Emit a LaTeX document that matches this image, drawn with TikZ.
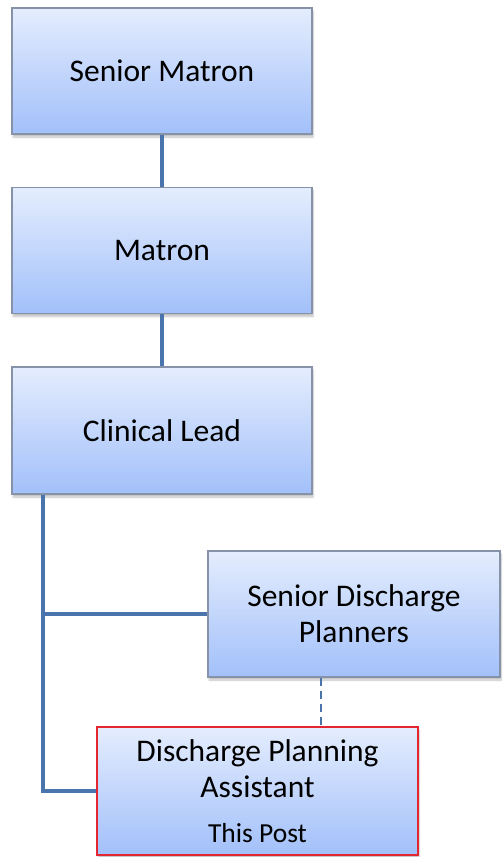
\documentclass[tikz,border=0pt]{standalone}
\usepackage{fontspec}
\setmainfont{Carlito}
\usetikzlibrary{shadows.blur}
\definecolor{boxtop}{HTML}{E4EDFD}
\definecolor{boxbot}{HTML}{A2C0FA}
\definecolor{boxline}{HTML}{8592A8}
\definecolor{linkblue}{HTML}{4A75AC}
\definecolor{postred}{HTML}{E32630}
\tikzset{
  box/.style={draw=boxline,line width=1.3pt,top color=boxtop,bottom color=boxbot,
    minimum width=300pt,minimum height=126pt,align=center,inner sep=0pt,
    font=\fontsize{31.5}{36}\selectfont,
    blur shadow={shadow xshift=1pt,shadow yshift=-3pt,shadow blur steps=6,shadow opacity=25}},
  link/.style={draw=linkblue,line width=4.2pt},
  duty/.style={draw=linkblue,line width=2.8pt,dash pattern=on 8pt off 5pt}
}
\begin{document}
\begin{tikzpicture}[x=1pt,y=-1pt]
\useasboundingbox (0,0) rectangle (503,857);
\node[box] (sm) at (162,71) {Senior Matron};
\node[box] (m) at (162,250.5) {Matron};
\node[box,minimum height=127pt] (cl) at (162,430.5) {Clinical Lead};
\node[box,minimum width=292pt] (sdp) at (354,614) {Senior Discharge\\Planners};
\node[box,minimum width=321pt,minimum height=128pt,draw=postred,line width=2.4pt] (dpa) at (257.5,791)
  {Discharge Planning\\Assistant\\[9pt]{\fontsize{27.5}{33}\selectfont This Post}};
\coordinate (trunk) at (43,0);
\coordinate (dash) at (321,0);
\draw[link] (sm) -- (m);
\draw[link] (m) -- (cl);
\draw[link] (cl.south -| trunk) |- (sdp.west);
\draw[link] (cl.south -| trunk) |- (dpa.west);
\draw[duty] (sdp.south -| dash) -- (dpa.north -| dash);
\end{tikzpicture}
\end{document}
